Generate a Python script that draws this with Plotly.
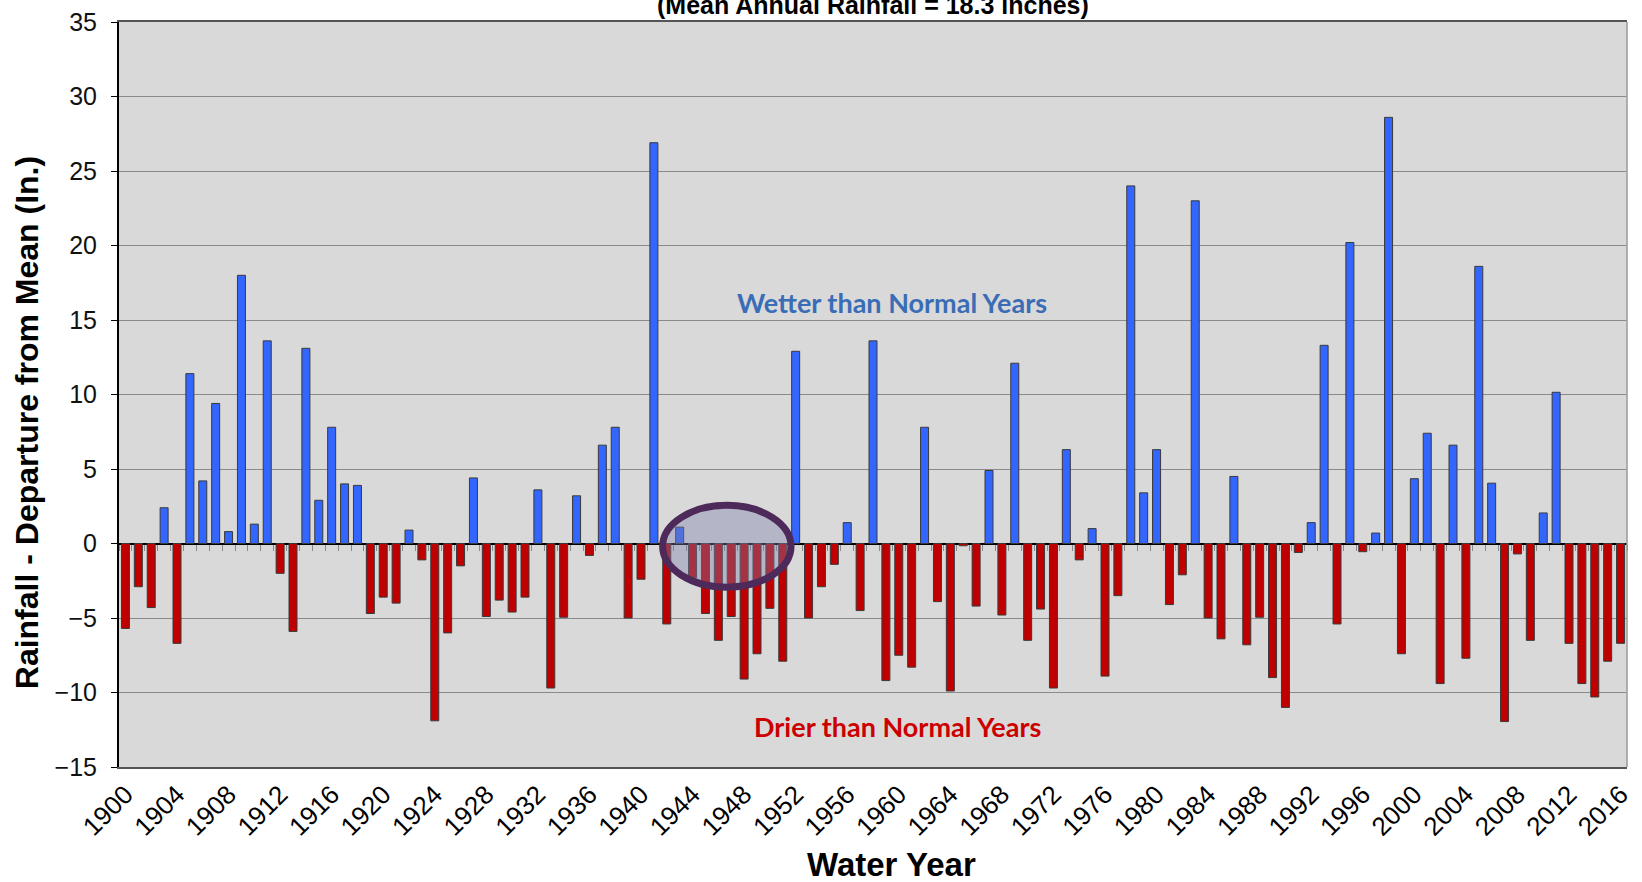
import plotly.graph_objects as go

# ---------------- data ----------------
years = list(range(1900, 2017))
departure = [
    -5.7, -2.9, -4.3, 2.4, -6.7, 11.4, 4.2, 9.4, 0.8, 18.0,      # 1900-1909
    1.3, 13.6, -2.0, -5.9, 13.1, 2.9, 7.8, 4.0, 3.9, -4.7,       # 1910-1919
    -3.6, -4.0, 0.9, -1.1, -11.9, -6.0, -1.5, 4.4, -4.9, -3.8,   # 1920-1929
    -4.6, -3.6, 3.6, -9.7, -4.95, 3.2, -0.8, 6.6, 7.8, -5.0,     # 1930-1939
    -2.4, 26.9, -5.4, 1.1, -2.3, -4.7, -6.5, -4.9, -9.1, -7.4,   # 1940-1949
    -4.35, -7.9, 12.9, -5.0, -2.9, -1.4, 1.4, -4.5, 13.6, -9.2,  # 1950-1959
    -7.5, -8.3, 7.8, -3.9, -9.9, -0.15, -4.2, 4.9, -4.8, 12.1,   # 1960-1969
    -6.5, -4.4, -9.7, 6.3, -1.1, 1.0, -8.9, -3.5, 24.0, 3.4,     # 1970-1979
    6.3, -4.1, -2.1, 23.0, -5.0, -6.4, 4.5, -6.8, -4.95, -9.0,   # 1980-1989
    -11.0, -0.6, 1.4, 13.3, -5.4, 20.2, -0.55, 0.7, 28.6, -7.4,  # 1990-1999
    4.35, 7.4, -9.4, 6.6, -7.7, 18.6, 4.05, -11.95, -0.7, -6.5,  # 2000-2009
    2.05, 10.15, -6.7, -9.4, -10.3, -7.9, -6.7,                  # 2010-2016
]
tick_years = list(range(1900, 2017, 4))
title_text = "(Mean Annual Rainfall = 18.3 inches)"
wet_label = "Wetter than Normal Years"
dry_label = "Drier than Normal Years"
x_title = "Water Year"
y_title = "Rainfall - Departure from Mean (In.)"

# highlighted period (drought of the 1940s)
highlight_x = (1941.68, 1951.64)
highlight_y = (-2.93, 2.56)

BLUE = "#3366ff"
RED = "#c00000"
colors = [BLUE if v > 0 else RED for v in departure]

FONT = "Liberation Sans, Arial, sans-serif"
LABEL_FONT = "Lato, Open Sans, sans-serif"

fig = go.Figure()
fig.add_trace(go.Bar(
    x=years, y=departure,
    marker=dict(color=colors, line=dict(color="#3a3a3a", width=1)),
    width=0.62, showlegend=False, hoverinfo="x+y",
))
# invisible helper trace for the category-boundary tick axis at zero
fig.add_trace(go.Scatter(
    x=years, y=[0] * len(years), xaxis="x2", yaxis="y",
    mode="markers", marker=dict(opacity=0), showlegend=False, hoverinfo="skip",
))

fig.update_layout(
    width=1642, height=882,
    margin=dict(l=119, r=8, t=19, b=115),
    paper_bgcolor="white",
    plot_bgcolor="#d9d9d9",
    font=dict(family=FONT, color="#000000"),
    xaxis=dict(
        range=[1899.5, 2016.5],
        tickmode="array", tickvals=tick_years,
        ticktext=[str(y) for y in tick_years],
        tickangle=-45,
        tickfont=dict(size=26, family=FONT, color="#000"),
        ticks="",
        showgrid=False, zeroline=False,
        showline=True, linecolor="#555555", linewidth=2, mirror=True,
    ),
    xaxis2=dict(
        overlaying="x", anchor="free", position=0.3,
        range=[1899.5, 2016.5],
        tickmode="linear", tick0=1899.5, dtick=1,
        ticks="outside", ticklen=6, tickcolor="#8a8a8a", tickwidth=1,
        showticklabels=False, showgrid=False, zeroline=False, showline=False,
    ),
    yaxis=dict(
        range=[-15, 35], dtick=5, tick0=0,
        tickfont=dict(size=25, family=FONT, color="#111"),
        ticks="outside", ticklen=6, tickcolor="#000",
        ticklabelstandoff=9,
        showgrid=True, gridcolor="#8a8a8a", gridwidth=1.3,
        zeroline=True, zerolinecolor="#000000", zerolinewidth=2,
        showline=True, linecolor="#000000", linewidth=2,
    ),
    shapes=[
        dict(type="line", xref="paper", yref="paper", x0=1, x1=1, y0=0, y1=1,
             line=dict(color="#9a9a9a", width=1.5)),
        dict(type="circle", xref="x", yref="y", layer="above",
             x0=highlight_x[0], x1=highlight_x[1],
             y0=highlight_y[0], y1=highlight_y[1],
             fillcolor="rgba(124,128,170,0.4)",
             line=dict(color="#4e2a5a", width=7)),
    ],
    annotations=[
        dict(text="<b>" + title_text + "</b>", xref="paper", yref="paper",
             x=0.4997, y=1.0013, xanchor="center", yanchor="bottom", showarrow=False,
             font=dict(size=25, family=FONT, color="#000")),
        dict(text="<b>" + wet_label + "</b>", xref="paper", yref="y", x=0.5125, y=16.15,
             xanchor="center", yanchor="middle", showarrow=False,
             font=dict(size=27, family=LABEL_FONT, color="#3a6db5")),
        dict(text="<b>" + dry_label + "</b>", xref="paper", yref="y", x=0.5163, y=-12.28,
             xanchor="center", yanchor="middle", showarrow=False,
             font=dict(size=27, family=LABEL_FONT, color="#cc0000")),
        dict(text="<b>" + x_title + "</b>", xref="paper", yref="paper", x=0.5125, y=-0.1305,
             xanchor="center", yanchor="middle", showarrow=False,
             font=dict(size=33, family=FONT, color="#000")),
        dict(text="<b>" + y_title + "</b>", xref="paper", yref="paper", x=-0.0614, y=0.462,
             xanchor="center", yanchor="middle", showarrow=False, textangle=-90,
             font=dict(size=32, family=FONT, color="#000")),
    ],
)

fig.write_html("out.html", config={"displayModeBar": False},
               post_script="document.body.style.margin='0px';")
